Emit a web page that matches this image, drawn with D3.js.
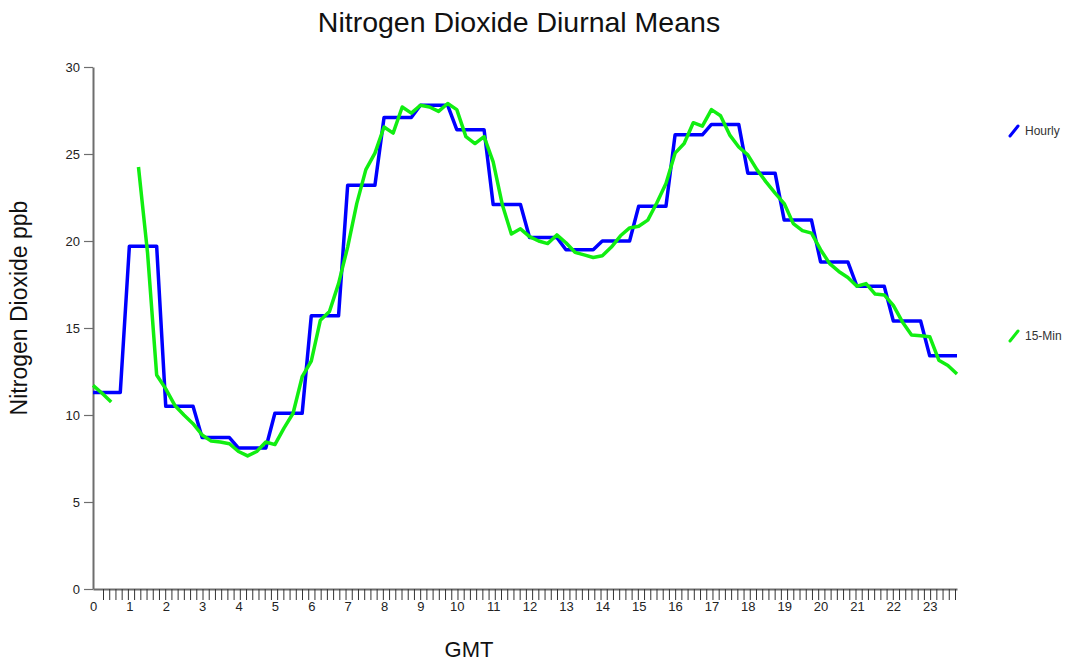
<!DOCTYPE html>
<html>
<head>
<meta charset="utf-8">
<script src="https://cdn.jsdelivr.net/npm/d3@7"></script>
<style>
  html, body { margin: 0; padding: 0; background: #fff; }
  svg { display: block; font-family: "Liberation Sans", Arial, sans-serif; }
</style>
</head>
<body>
<svg id="chart" width="1071" height="662"></svg>
<script>
// Hourly diurnal means (ppb), hours 0..23 GMT
const hours = d3.range(24);
const hourlyValues = [11.3, 19.7, 10.5, 8.7, 8.1, 10.1, 15.7, 23.2, 27.1, 27.8, 26.4, 22.1,
                      20.2, 19.5, 20.0, 22.0, 26.1, 26.7, 23.9, 21.2, 18.8, 17.4, 15.4, 13.4];

// 15-minute diurnal means (ppb), 96 slots; null where no data
const quarterValues = [
  11.7, 11.25, 10.75, null, null, 24.25, 19.3, 12.3,
  11.5, 10.55, 10.0, 9.5, 8.85, 8.5, 8.45, 8.35,
  7.9, 7.65, 7.9, 8.45, 8.3, 9.25, 10.1, 12.2,
  13.1, 15.45, 15.95, 17.55, 19.65, 22.15, 24.1, 25.05,
  26.55, 26.2, 27.7, 27.35, 27.8, 27.7, 27.45, 27.9,
  27.55, 26.0, 25.6, 26.0, 24.55, 22.1, 20.4, 20.7,
  20.25, 20.0, 19.85, 20.35, 19.9, 19.35, 19.2, 19.05,
  19.15, 19.65, 20.3, 20.75, 20.85, 21.2, 22.2, 23.3,
  25.05, 25.6, 26.8, 26.6, 27.55, 27.2, 26.1, 25.4,
  24.95, 24.1, 23.4, 22.75, 22.15, 21.0, 20.6, 20.45,
  19.5, 18.7, 18.25, 17.9, 17.4, 17.55, 16.95, 16.9,
  16.3, 15.35, 14.6, 14.55, 14.5, 13.15, 12.85, 12.35
];

const yTicks = [0, 5, 10, 15, 20, 25, 30];
const hourLabels = hours.map(String);

const svg = d3.select("#chart");

// Horizontal axis runs over the 96 quarter-hour slots of the day
const x = d3.scaleLinear().domain([0, 95]).range([93, 957]);
const y = d3.scaleLinear().domain([0, 30]).range([589, 67]);

const axisColor = "#6e6e6e";
const textColor = "#222";
const blue = "#0000ff";
const green = "#11ee11";

// Title
svg.append("text")
  .attr("x", 519).attr("y", 32)
  .attr("text-anchor", "middle")
  .attr("font-size", 28.5)
  .attr("fill", "#111")
  .text("Nitrogen Dioxide Diurnal Means");

// Y axis
const yAxis = svg.append("g")
  .attr("transform", `translate(${x(0)},0)`)
  .call(d3.axisLeft(y).tickValues(yTicks).tickSize(9).tickPadding(4).tickSizeOuter(0));
yAxis.select(".domain").attr("stroke", axisColor).attr("stroke-width", 2);
yAxis.selectAll(".tick line").attr("stroke", axisColor).attr("stroke-width", 1.2);
yAxis.selectAll(".tick text").attr("fill", textColor).attr("font-size", 13)
  .attr("font-family", "Liberation Sans, Arial, sans-serif");

// X axis: baseline with fine tick marks, hour labels underneath
const minorTicks = d3.range(138).map(k => x.invert(103) + k * (x.invert(955) - x.invert(103)) / 137);
const xAxis = svg.append("g")
  .attr("transform", `translate(0,${y(0)})`)
  .call(d3.axisBottom(x).tickValues(minorTicks).tickSize(11).tickFormat("").tickSizeOuter(0));
xAxis.select(".domain").attr("stroke", axisColor).attr("stroke-width", 2);
xAxis.selectAll(".tick line").attr("stroke", "#333").attr("stroke-width", 1);

const xLabels = svg.append("g")
  .attr("transform", `translate(0,${y(0)})`)
  .call(d3.axisBottom(x).tickValues(hours.map(h => h * 4))
    .tickFormat((d, i) => hourLabels[i]).tickSize(0).tickPadding(13));
xLabels.select(".domain").remove();
xLabels.selectAll(".tick text").attr("fill", textColor).attr("font-size", 13)
  .attr("font-family", "Liberation Sans, Arial, sans-serif");

// Axis titles
svg.append("text")
  .attr("transform", "translate(27,308) rotate(-90)")
  .attr("text-anchor", "middle")
  .attr("font-size", 23)
  .attr("fill", "#111")
  .text("Nitrogen Dioxide ppb");

svg.append("text")
  .attr("x", 469).attr("y", 657)
  .attr("text-anchor", "middle")
  .attr("font-size", 22)
  .attr("fill", "#111")
  .text("GMT");

// Hourly series drawn as steps across the quarter-hour slots
const hourlySteps = d3.range(96).map(i => ({ i, v: hourlyValues[Math.floor(i / 4)] }));
const line = d3.line().x(d => x(d.i)).y(d => y(d.v)).defined(d => d.v != null);

svg.append("path")
  .datum(hourlySteps)
  .attr("fill", "none")
  .attr("stroke", blue)
  .attr("stroke-width", 3.5)
  .attr("stroke-linejoin", "round")
  .attr("d", line);

const quarterPoints = quarterValues.map((v, i) => ({ i, v }));
svg.append("path")
  .datum(quarterPoints)
  .attr("fill", "none")
  .attr("stroke", green)
  .attr("stroke-width", 3.5)
  .attr("stroke-linejoin", "round")
  .attr("d", line);

// Legend
const legend = [
  { name: "Hourly", color: blue, y: 131 },
  { name: "15-Min", color: green, y: 336 }
];
const lg = svg.append("g").selectAll("g").data(legend).join("g")
  .attr("transform", d => `translate(1009,${d.y})`);
lg.append("line")
  .attr("x1", 1).attr("y1", 5).attr("x2", 9).attr("y2", -5)
  .attr("stroke", d => d.color).attr("stroke-width", 3).attr("stroke-linecap", "round");
lg.append("text")
  .attr("x", 16).attr("y", 4)
  .attr("font-size", 12)
  .attr("fill", "#333")
  .text(d => d.name);
</script>
</body>
</html>
